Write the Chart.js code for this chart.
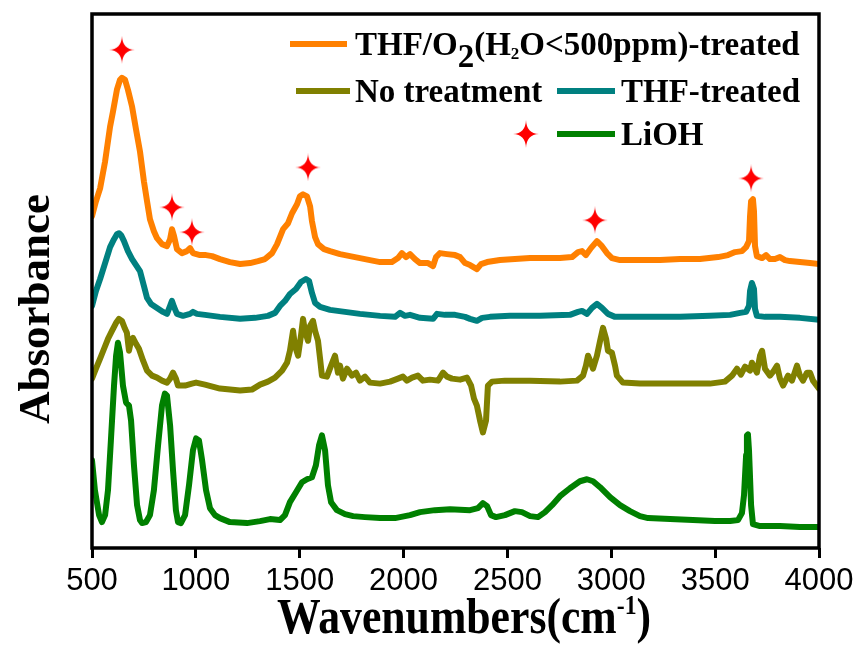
<!DOCTYPE html>
<html>
<head>
<meta charset="utf-8">
<script src="https://cdn.jsdelivr.net/npm/chart.js@4/dist/chart.umd.min.js"></script>
<style>
  html, body { margin: 0; padding: 0; background: #ffffff; }
  canvas { display: block; }
</style>
</head>
<body>
<canvas id="ftir" width="862" height="648"></canvas>
<script>
// FTIR spectra, [wavenumber (cm-1), absorbance (a.u., vertically offset)]
const thfO2Treated = [
  [500,3.33],[519,3.48],[539,3.61],[563,3.88],[587,4.23],[601,4.38],[620,4.60],[635,4.70],[644,4.72],[659,4.70],
  [673,4.60],[693,4.43],[712,4.20],[731,3.98],[750,3.68],[765,3.48],[779,3.30],[798,3.18],[813,3.11],[837,3.05],
  [861,3.03],[876,3.10],[885,3.20],[895,3.13],[909,3.00],[933,2.96],[957,2.98],[972,3.01],[986,2.96],[1020,2.94],
  [1049,2.94],[1078,2.93],[1116,2.90],[1164,2.87],[1213,2.85],[1261,2.86],[1299,2.88],[1333,2.90],[1367,2.96],[1391,3.05],
  [1420,3.20],[1444,3.26],[1463,3.36],[1487,3.45],[1501,3.53],[1516,3.55],[1535,3.53],[1550,3.43],[1559,3.28],[1574,3.12],
  [1588,3.05],[1617,3.00],[1646,2.98],[1694,2.95],[1742,2.93],[1790,2.91],[1838,2.89],[1887,2.87],[1944,2.87],[1973,2.91],
  [1992,2.96],[2012,2.92],[2031,2.95],[2055,2.90],[2079,2.86],[2118,2.86],[2142,2.83],[2156,2.92],[2175,2.96],[2209,2.95],
  [2248,2.94],[2272,2.92],[2296,2.86],[2320,2.84],[2353,2.80],[2373,2.85],[2402,2.87],[2464,2.89],[2536,2.90],[2609,2.91],
  [2681,2.91],[2753,2.91],[2811,2.92],[2840,2.97],[2859,2.98],[2878,2.94],[2902,3.01],[2931,3.08],[2955,3.03],[2979,2.96],
  [3003,2.91],[3042,2.89],[3138,2.89],[3235,2.89],[3331,2.90],[3427,2.90],[3514,2.92],[3562,2.94],[3596,2.97],[3629,2.98],
  [3649,3.02],[3663,3.08],[3668,3.33],[3673,3.48],[3682,3.50],[3687,3.38],[3692,3.03],[3701,2.93],[3726,2.91],[3745,2.94],
  [3764,2.90],[3788,2.90],[3812,2.92],[3836,2.89],[3860,2.88],[3908,2.87],[3957,2.86],[4000,2.85]
];

const thfTreated = [
  [500,2.43],[519,2.58],[539,2.70],[563,2.86],[587,3.02],[606,3.10],[620,3.15],[630,3.16],[640,3.14],[654,3.08],
  [673,2.98],[693,2.90],[712,2.84],[731,2.78],[750,2.63],[765,2.51],[784,2.45],[813,2.41],[842,2.37],[861,2.35],
  [876,2.43],[885,2.48],[895,2.42],[909,2.35],[938,2.33],[972,2.35],[986,2.37],[1005,2.35],[1044,2.34],[1116,2.32],
  [1213,2.30],[1285,2.31],[1347,2.33],[1381,2.36],[1405,2.43],[1429,2.48],[1453,2.55],[1482,2.60],[1506,2.67],[1530,2.70],
  [1545,2.68],[1559,2.56],[1574,2.46],[1598,2.42],[1646,2.39],[1718,2.37],[1790,2.35],[1887,2.33],[1959,2.32],[1983,2.36],
  [2007,2.33],[2031,2.34],[2079,2.31],[2142,2.30],[2161,2.35],[2199,2.34],[2248,2.34],[2296,2.32],[2320,2.30],[2353,2.28],
  [2378,2.31],[2416,2.32],[2512,2.33],[2657,2.33],[2801,2.34],[2840,2.37],[2859,2.38],[2883,2.35],[2907,2.41],[2931,2.45],
  [2955,2.41],[2984,2.35],[3018,2.32],[3138,2.32],[3331,2.32],[3475,2.33],[3572,2.34],[3620,2.36],[3649,2.37],[3663,2.43],
  [3668,2.58],[3677,2.66],[3687,2.60],[3692,2.40],[3701,2.33],[3740,2.32],[3812,2.32],[3908,2.31],[4000,2.29]
];

const noTreatment = [
  [500,1.70],[519,1.80],[539,1.90],[558,2.00],[577,2.10],[596,2.18],[616,2.26],[630,2.30],[644,2.28],[659,2.20],
  [668,2.16],[678,1.98],[688,2.08],[697,2.11],[712,2.05],[726,2.00],[746,1.88],[765,1.78],[789,1.73],[813,1.71],
  [837,1.68],[861,1.66],[876,1.70],[890,1.76],[904,1.70],[914,1.63],[948,1.63],[981,1.65],[1001,1.66],[1044,1.64],
  [1116,1.60],[1213,1.58],[1270,1.59],[1309,1.64],[1347,1.67],[1381,1.71],[1415,1.78],[1439,1.86],[1453,1.98],[1468,2.18],
  [1477,2.03],[1492,1.93],[1506,2.13],[1516,2.30],[1525,2.18],[1540,2.08],[1550,2.23],[1564,2.28],[1574,2.18],[1588,2.08],
  [1598,1.90],[1607,1.73],[1631,1.72],[1651,1.83],[1670,1.93],[1684,1.76],[1694,1.83],[1708,1.70],[1728,1.80],[1752,1.73],
  [1771,1.76],[1790,1.68],[1814,1.72],[1838,1.66],[1887,1.65],[1935,1.67],[1973,1.70],[1997,1.72],[2016,1.68],[2041,1.71],
  [2069,1.73],[2093,1.68],[2127,1.69],[2166,1.68],[2190,1.76],[2209,1.72],[2233,1.70],[2272,1.69],[2305,1.71],[2325,1.63],
  [2339,1.50],[2353,1.43],[2368,1.28],[2382,1.16],[2397,1.28],[2406,1.63],[2426,1.67],[2488,1.68],[2609,1.68],[2753,1.67],
  [2835,1.68],[2864,1.73],[2878,1.83],[2888,1.93],[2902,1.86],[2912,1.80],[2931,1.93],[2946,2.08],[2960,2.21],[2975,2.10],
  [2984,1.98],[3003,1.96],[3018,1.83],[3027,1.73],[3056,1.66],[3138,1.65],[3331,1.65],[3475,1.65],[3547,1.67],[3581,1.73],
  [3605,1.80],[3624,1.74],[3644,1.82],[3668,1.78],[3677,1.86],[3701,1.76],[3716,1.93],[3726,1.98],[3740,1.80],[3764,1.73],
  [3783,1.78],[3798,1.83],[3812,1.70],[3827,1.63],[3851,1.73],[3870,1.68],[3894,1.83],[3908,1.73],[3923,1.68],[3942,1.76],
  [3957,1.76],[3971,1.68],[4000,1.60]
];

const lioh = [
  [500,0.88],[514,0.58],[534,0.33],[548,0.26],[563,0.33],[577,0.58],[591,1.08],[606,1.63],[616,1.93],[625,2.06],
  [635,1.96],[649,1.63],[664,1.46],[678,1.43],[688,1.28],[702,0.83],[717,0.43],[731,0.28],[741,0.25],[760,0.26],
  [779,0.33],[798,0.58],[818,1.03],[837,1.43],[851,1.55],[861,1.53],[876,1.23],[890,0.78],[904,0.38],[914,0.26],
  [928,0.25],[948,0.33],[967,0.63],[986,0.98],[1001,1.10],[1015,1.08],[1030,0.88],[1049,0.58],[1068,0.40],[1092,0.33],
  [1116,0.30],[1164,0.26],[1246,0.25],[1309,0.27],[1357,0.29],[1405,0.28],[1429,0.33],[1453,0.46],[1482,0.56],[1511,0.66],
  [1535,0.69],[1559,0.71],[1578,0.83],[1593,1.03],[1607,1.13],[1622,0.98],[1636,0.63],[1651,0.46],[1679,0.38],[1718,0.34],
  [1757,0.32],[1814,0.31],[1887,0.30],[1959,0.30],[2031,0.33],[2079,0.36],[2151,0.38],[2224,0.39],[2320,0.38],[2358,0.40],
  [2382,0.45],[2402,0.42],[2421,0.33],[2445,0.31],[2488,0.33],[2536,0.37],[2570,0.36],[2609,0.32],[2647,0.31],[2681,0.36],
  [2715,0.43],[2753,0.52],[2801,0.60],[2849,0.67],[2883,0.69],[2912,0.67],[2946,0.61],[2994,0.51],[3042,0.43],[3090,0.37],
  [3138,0.32],[3177,0.30],[3283,0.29],[3393,0.28],[3499,0.27],[3572,0.27],[3610,0.28],[3629,0.35],[3639,0.53],[3649,0.93],
  [3653,1.13],[3658,1.14],[3663,0.98],[3673,0.43],[3682,0.24],[3716,0.22],[3812,0.22],[3908,0.21],[4000,0.21]
];

// LiOH bands marked with stars
const liohBandMarks = [
  [644,5.00],[885,3.42],[981,3.17],[1540,3.82],[2921,3.29],[3673,3.71]
];

const wavenumberTicks = [500, 1000, 1500, 2000, 2500, 3000, 3500, 4000];

const COLORS = {
  thfO2: '#ff8000',
  thf: '#008080',
  none: '#808000',
  lioh: '#008000',
  star: '#ff0000'
};

const SERIF = '"Liberation Serif", "Times New Roman", serif';
const SANS = '"Liberation Sans", Arial, sans-serif';

// four-pointed star used for the band markers
function makeStar(w, h) {
  const c = document.createElement('canvas');
  c.width = w; c.height = h;
  const g = c.getContext('2d');
  const cx = w / 2, cy = h / 2, k = 0.5;
  g.fillStyle = COLORS.star;
  g.beginPath();
  g.moveTo(cx, 0);
  g.quadraticCurveTo(cx + k, cy - k, w, cy);
  g.quadraticCurveTo(cx + k, cy + k, cx, h);
  g.quadraticCurveTo(cx - k, cy + k, 0, cy);
  g.quadraticCurveTo(cx - k, cy - k, cx, 0);
  g.closePath();
  g.fill();
  return c;
}
const starImg = makeStar(26, 28);

const toXY = arr => arr.map(([x, y]) => ({ x, y }));

function lineSet(label, data, color) {
  return {
    type: 'line',
    label,
    data: toXY(data),
    borderColor: color,
    backgroundColor: color,
    borderWidth: 6,
    pointRadius: 0,
    tension: 0,
    borderJoinStyle: 'round',
    borderCapStyle: 'round'
  };
}

// frame, axis titles and the legend block
const decorations = {
  id: 'decorations',
  afterDraw(chart) {
    const { ctx, chartArea: a } = chart;
    ctx.save();

    // frame
    ctx.strokeStyle = '#000';
    ctx.lineWidth = 3.5;
    ctx.strokeRect(a.left, a.top, a.right - a.left, a.bottom - a.top);

    ctx.fillStyle = '#000';
    ctx.textBaseline = 'alphabetic';

    // x title with superscript, drawn slightly tall
    const xMain = 'Wavenumbers(cm';
    const xSup = '-1';
    const xEnd = ')';
    ctx.font = 'bold 46px ' + SERIF;
    const wMain = ctx.measureText(xMain).width;
    const wEnd = ctx.measureText(xEnd).width;
    ctx.font = 'bold 25px ' + SERIF;
    const wSup = ctx.measureText(xSup).width;
    const sx = 0.95, sy = 1.12;
    const total = (wMain + wSup + wEnd) * sx;
    ctx.save();
    ctx.translate(464 - total / 2, 633);
    ctx.scale(sx, sy);
    let x = 0;
    ctx.font = 'bold 46px ' + SERIF;
    ctx.fillText(xMain, x, 0); x += wMain;
    ctx.font = 'bold 25px ' + SERIF;
    ctx.fillText(xSup, x, -17); x += wSup;
    ctx.font = 'bold 46px ' + SERIF;
    ctx.fillText(xEnd, x, 0);
    ctx.restore();

    // y title
    ctx.save();
    ctx.translate(37, 309);
    ctx.rotate(-Math.PI / 2);
    ctx.font = 'bold 45px ' + SERIF;
    ctx.textAlign = 'center';
    ctx.textBaseline = 'middle';
    ctx.fillText('Absorbance', 0, 0);
    ctx.restore();

    // legend
    const big = 'bold 33px ' + SERIF;
    const small = 'bold 17px ' + SERIF;
    const swatch = (x0, x1, y, color) => {
      ctx.strokeStyle = color;
      ctx.lineWidth = 6;
      ctx.lineCap = 'butt';
      ctx.beginPath();
      ctx.moveTo(x0, y); ctx.lineTo(x1, y);
      ctx.stroke();
    };
    const runs = (x0, y, parts) => {
      let cx = x0;
      for (const p of parts) {
        ctx.font = p.font;
        ctx.fillText(p.t, cx, y + (p.dy || 0));
        cx += ctx.measureText(p.t).width;
      }
    };

    // row 1
    swatch(290, 347, 44, COLORS.thfO2);
    runs(355, 55, [
      { t: 'THF/O', font: big },
      { t: '2', font: big, dy: 12 },
      { t: '(H', font: big },
      { t: '2', font: small, dy: 4 },
      { t: 'O<500ppm)-treated', font: big }
    ]);
    // row 2
    swatch(296, 350, 91, COLORS.none);
    runs(355, 102, [{ t: 'No treatment', font: big }]);
    swatch(557, 615, 91, COLORS.thf);
    runs(621, 102, [{ t: 'THF-treated', font: big }]);
    // row 3
    ctx.drawImage(starImg, 526 - starImg.width / 2, 134 - starImg.height / 2);
    swatch(557, 615, 134, COLORS.lioh);
    runs(621, 145, [{ t: 'LiOH', font: big }]);

    ctx.restore();
  }
};

new Chart(document.getElementById('ftir'), {
  data: {
    datasets: [
      lineSet('LiOH', lioh, COLORS.lioh),
      lineSet('No treatment', noTreatment, COLORS.none),
      lineSet('THF-treated', thfTreated, COLORS.thf),
      lineSet('THF/O2(H2O<500ppm)-treated', thfO2Treated, COLORS.thfO2),
      {
        type: 'scatter',
        label: 'LiOH bands',
        data: toXY(liohBandMarks),
        pointStyle: starImg,
        pointRadius: 13,
        showLine: false
      }
    ]
  },
  options: {
    responsive: false,
    animation: false,
    devicePixelRatio: 1,
    layout: { padding: { left: 92, right: 43, top: 12, bottom: 0 } },
    plugins: {
      legend: { display: false },
      tooltip: { enabled: false }
    },
    scales: {
      x: {
        type: 'linear',
        min: 500,
        max: 4000,
        afterFit(scale) { scale.height = 100; },
        afterBuildTicks(scale) { scale.ticks = wavenumberTicks.map(v => ({ value: v })); },
        border: { display: false },
        grid: {
          drawOnChartArea: false,
          drawTicks: true,
          tickLength: 10,
          tickWidth: 3,
          tickColor: '#000'
        },
        ticks: {
          color: '#000',
          font: { family: SANS, size: 31 },
          padding: 5,
          maxRotation: 0,
          autoSkip: false,
          callback: v => String(v)
        }
      },
      y: {
        type: 'linear',
        min: 0,
        max: 5.36,
        display: false
      }
    }
  },
  plugins: [decorations]
});
</script>
</body>
</html>
